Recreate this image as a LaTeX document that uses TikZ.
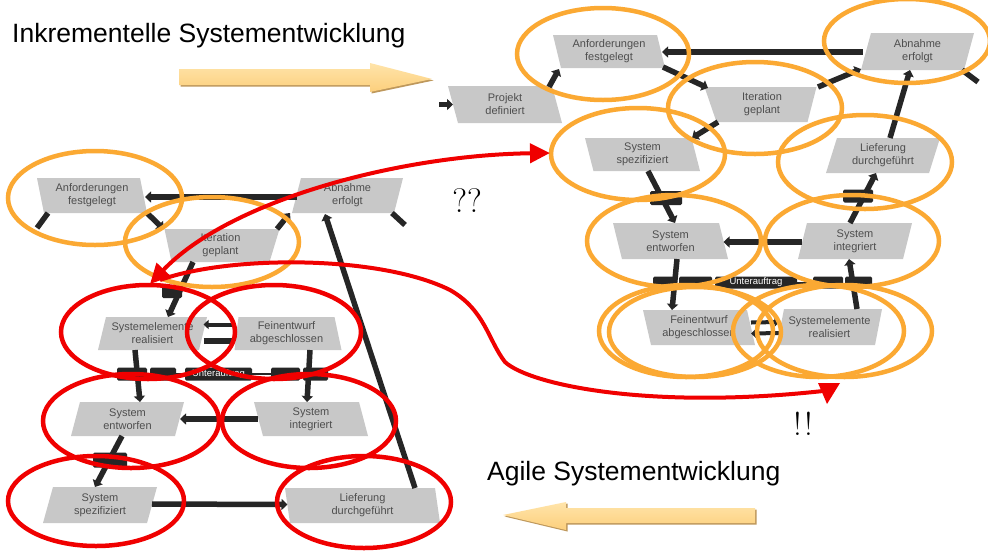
\documentclass[tikz,border=0pt]{standalone}
\usepackage{fontspec}
\newfontfamily\labelfont{Liberation Sans}
\usetikzlibrary{shapes.geometric,arrows.meta,calc}

\definecolor{gatefill}{RGB}{200,200,200}
\definecolor{gatetext}{RGB}{78,78,78}
\definecolor{linkcol}{RGB}{38,38,38}
\definecolor{ringorange}{RGB}{251,169,51}
\definecolor{ringred}{RGB}{240,0,0}
\definecolor{bandlight}{RGB}{255,228,170}
\definecolor{banddark}{RGB}{252,207,124}
\definecolor{bandedge}{RGB}{190,152,92}

\tikzset{
  % slanted decision gate: width, height, half height, left angle, right angle, caption
  gate/.style n args={6}{trapezium, trapezium stretches body, fill=gatefill, draw=none,
    inner xsep=0pt, inner ysep=#3, minimum width=#1, minimum height=#2,
    trapezium left angle=#4, trapezium right angle=#5,
    label={[caption]center:{#6}}},
  caption/.style={text=gatetext, font=\labelfont\fontsize{11}{13}\selectfont, align=center, inner sep=0pt},
  flow/.style={draw=linkcol, line width=5.5pt, -{Triangle[length=6pt,width=11pt]}},
  shortflow/.style={draw=linkcol, line width=4pt, -{Triangle[length=5pt,width=9pt]}},
  bar/.style={draw=linkcol, line width=5.5pt},
  tag/.style={fill=linkcol, rounded corners=1.5pt, inner sep=0pt, text=white,
    font=\labelfont\fontsize{9.5}{10}\selectfont},
  ring/.style={draw=ringorange, line width=4.5pt},
  redring/.style={draw=ringred, line width=4.5pt},
  redflow/.style={draw=ringred, line width=4pt},
  heading/.style={font=\labelfont\fontsize{26.5}{30}\selectfont, inner sep=0pt, anchor=base west},
  band/.style={top color=bandlight, bottom color=banddark, draw=none},
  bandshadow/.style={fill=bandedge, draw=none},
}

\begin{document}
\begin{tikzpicture}[x=1pt,y=-1pt]
\fill[white] (0,0) rectangle (988,550);
\useasboundingbox (0,0) rectangle (988,550);

% ---------- incremental cycle (upper right) ----------
\node[gate={114pt}{37pt}{18.5pt}{105.1}{74.9}{Projekt\\definiert}] (PD) at (505,104.5) {};
\node[gate={112pt}{33pt}{16.5pt}{103.6}{76.4}{Anforderungen\\festgelegt}] (AF) at (609,51.5) {};
\node[gate={113pt}{37pt}{18.5pt}{74.9}{105.1}{Abnahme\\erfolgt}] (AE) at (917.5,51.5) {};
\node[gate={112pt}{35pt}{17.5pt}{108.9}{104.4}{Iteration\\geplant}] (IG) at (762,104.5) {};
\node[gate={115pt}{33pt}{16.5pt}{104.4}{75.6}{System\\spezifiziert}] (SS) at (642.5,154.5) {};
\node[gate={114pt}{35pt}{17.5pt}{72.6}{107.4}{Lieferung\\durchgeführt}] (LD) at (883,155.5) {};
\node[gate={115pt}{36pt}{18pt}{104}{76}{System\\entworfen}] (SE) at (670.5,241) {};
\node[gate={114pt}{36pt}{18pt}{76}{104}{System\\integriert}] (SI) at (855,241) {};
\node[gate={112pt}{35pt}{17.5pt}{102.9}{77.1}{Feinentwurf\\abgeschlossen}] (FA) at (699,327.5) {};
\node[gate={105pt}{36pt}{18pt}{79}{101}{Systemelemente\\realisiert}] (SR) at (829.5,327) {};

\coordinate (pdin) at (439,104.5);
\coordinate (aeout) at (978,82);

\draw[flow] (pdin) -- ([shift={(-52,0)}]PD.center);
\draw[flow] ([shift={(44,-17.5)}]PD.center) -- ([shift={(-50,17.5)}]AF.center);
\draw[flow] ([shift={(54,15.5)}]AF.center) -- ([shift={(-54,-16.5)}]IG.center);
\draw[flow] ([shift={(56,-17.5)}]IG.center) -- ([shift={(-56.5,17.5)}]AE.center);
\draw[flow] ([shift={(-55,0.5)}]AE.center) -- ([shift={(53,0.5)}]AF.center);
\draw[flow] ([shift={(-44,17.5)}]IG.center) -- ([shift={(49.5,-16.5)}]SS.center);
\draw[flow] ([shift={(7,-17.5)}]LD.center) -- ([shift={(-7.5,18.5)}]AE.center);
\draw[bar] ([shift={(44.5,18.5)}]AE.center) -- (aeout);
\draw[flow] ([shift={(5.5,16.5)}]SS.center) -- ([shift={(4.5,-18)}]SE.center);
\draw[flow] ([shift={(6.5,18)}]SE.center) -- ([shift={(-27,-17.5)}]FA.center);
\draw[flow] ([shift={(-53,1)}]SI.center) -- ([shift={(53,1)}]SE.center);
\draw[flow] ([shift={(27.5,-18)}]SR.center) -- ([shift={(-6,18)}]SI.center);
\draw[flow] ([shift={(-5,-18)}]SI.center) -- ([shift={(-7,17.5)}]LD.center);
\draw[shortflow] ([shift={(52,-5)}]FA.center) -- ([shift={(-50,-5)}]SR.center);
\draw[shortflow] ([shift={(-50,6)}]SR.center) -- ([shift={(52,6)}]FA.center);

\node[tag, minimum width=32pt, minimum height=14pt] (t1) at (666,198) {};
\node[tag, minimum width=30pt, minimum height=13pt] (t2) at (858,196) {};
\node[tag, minimum width=24pt, minimum height=12pt] (t3) at (665,282.5) {};
\node[tag, minimum width=33pt, minimum height=12pt] (t4) at (695.5,282.5) {};
\node[tag, minimum width=82pt, minimum height=12pt] (t5) at (756,282.5) {Unterauftrag};
\node[tag, minimum width=30pt, minimum height=12pt] (t6) at (828,282.5) {};
\node[tag, minimum width=27pt, minimum height=12pt] (t7) at (858.5,282.5) {};
\draw[linkcol, line width=2pt] (t4.east) -- (t5.west);
\draw[linkcol, line width=2pt] (t5.east) -- (t6.west);

% ---------- agile cycle (lower left) ----------
\node[gate={110pt}{35pt}{17.5pt}{101.3}{78.7}{Anforderungen\\festgelegt}] (AFl) at (92,195.5) {};
\node[gate={111pt}{35pt}{17.5pt}{75.6}{104.4}{Abnahme\\erfolgt}] (AEl) at (347.5,195.5) {};
\node[gate={115pt}{33pt}{16.5pt}{102}{106.9}{Iteration\\geplant}] (IGl) at (220.5,245.5) {};
\node[gate={109pt}{33pt}{16.5pt}{76.4}{103.6}{Systemelemente\\realisiert}] (SRl) at (152.5,333.5) {};
\node[gate={107pt}{33pt}{16.5pt}{83.1}{78}{Feinentwurf\\abgeschlossen}] (FAl) at (286.5,333.5) {};
\node[gate={113pt}{34pt}{17pt}{75.2}{104.8}{System\\entworfen}] (SEl) at (127.5,419) {};
\node[gate={114pt}{34pt}{17pt}{104.8}{75.2}{System\\integriert}] (SIl) at (311,419) {};
\node[gate={114pt}{36pt}{18pt}{74.5}{105.5}{System\\spezifiziert}] (SSl) at (100,505) {};
\node[gate={155pt}{35pt}{17.5pt}{98.1}{81.9}{Lieferung\\durchgeführt}] (LDl) at (362.5,505.5) {};

\coordinate (aflout) at (37,228);
\coordinate (aelout) at (405,225);

\draw[flow] ([shift={(-50.5,1.5)}]AEl.center) -- ([shift={(53,1.5)}]AFl.center);
\draw[bar] ([shift={(-44,17.5)}]AFl.center) -- (aflout);
\draw[flow] ([shift={(55,17.5)}]AFl.center) -- ([shift={(-57,-16.5)}]IGl.center);
\draw[flow] ([shift={(56.5,-16.5)}]IGl.center) -- ([shift={(-57.5,17.5)}]AEl.center);
\draw[bar] ([shift={(44.5,17.5)}]AEl.center) -- (aelout);
\draw[flow] ([shift={(52.5,-17.5)}]LDl.center) -- ([shift={(-22.5,18.5)}]AEl.center);
\draw[flow] ([shift={(-27.5,16.5)}]IGl.center) -- ([shift={(15.5,-16.5)}]SRl.center);
\draw[shortflow] ([shift={(-51.5,-9)}]FAl.center) -- ([shift={(51,-9)}]SRl.center);
\draw[bar] ([shift={(51,7.5)}]SRl.center) -- ([shift={(-53,7.5)}]FAl.center);
\draw[flow] ([shift={(-17.5,16.5)}]SRl.center) -- ([shift={(12.5,-17)}]SEl.center);
\draw[flow] ([shift={(23.5,16.5)}]FAl.center) -- ([shift={(-4,-17)}]SIl.center);
\draw[flow] ([shift={(-53,0)}]SIl.center) -- ([shift={(52.5,0)}]SEl.center);
\draw[flow] ([shift={(-5.5,17)}]SEl.center) -- ([shift={(-5,-18)}]SSl.center);
\draw[flow] ([shift={(52,-1)}]SSl.center) -- ([shift={(-75,-1)}]LDl.center);

\node[tag, minimum width=20pt, minimum height=12pt] (tl1) at (172,292) {};
\node[tag, minimum width=34pt, minimum height=15pt] (tl2) at (110,460) {};
\node[tag, minimum width=30pt, minimum height=13pt] (tl3) at (132,374) {};
\node[tag, minimum width=26pt, minimum height=13pt] (tl4) at (163,374) {};
\node[tag, minimum width=67pt, minimum height=13pt] (tl5) at (218.5,374) {Unterauftrag};
\node[tag, minimum width=29pt, minimum height=13pt] (tl6) at (285.5,374) {};
\node[tag, minimum width=25pt, minimum height=13pt] (tl7) at (315.5,374) {};
\draw[linkcol, line width=2pt] (tl4.east) -- (tl5.west);
\draw[linkcol, line width=2pt] (tl5.east) -- (tl6.west);

% ---------- highlight rings ----------
\draw[ring] (603,54) ellipse [x radius=86pt, y radius=46pt];
\draw[ring] (907,41) ellipse [x radius=83pt, y radius=42pt];
\draw[ring] (755,108) ellipse [x radius=87pt, y radius=46pt];
\draw[ring] (638,154) ellipse [x radius=87pt, y radius=46pt];
\draw[ring] (865,162) ellipse [x radius=87pt, y radius=47pt];
\draw[ring] (674,241) ellipse [x radius=87pt, y radius=46pt];
\draw[ring] (852,241) ellipse [x radius=87pt, y radius=46pt];
\draw[ring] (686,331) ellipse [x radius=87pt, y radius=46pt];
\draw[ring] (695,332) ellipse [x radius=86pt, y radius=45pt];
\draw[ring] (818.5,331) ellipse [x radius=85.5pt, y radius=46pt];
\draw[ring] (844.5,331) ellipse [x radius=87.5pt, y radius=46pt];

\draw[ring] (95,198) ellipse [x radius=87pt, y radius=47pt];
\draw[ring] (212,242) ellipse [x radius=87pt, y radius=45pt];
\draw[redring] (148,332) ellipse [x radius=87pt, y radius=47pt];
\draw[redring] (274,332) ellipse [x radius=87pt, y radius=47pt];
\draw[redring] (131,421) ellipse [x radius=88pt, y radius=47pt];
\draw[redring] (309,421) ellipse [x radius=87pt, y radius=47pt];
\draw[redring] (96,501) ellipse [x radius=88pt, y radius=45pt];
\draw[redring] (364,502) ellipse [x radius=87pt, y radius=46pt];

% ---------- red transfer arrows ----------
\coordinate (rA) at (150,284);
\coordinate (rB) at (550,153);
\coordinate (rC) at (160,280);
\coordinate (rD) at (823,391);
\draw[redflow, {Triangle[length=20pt,width=19pt]}-{Triangle[length=20pt,width=19pt]}]
  (rA) .. controls (230,200) and (400,155) .. (rB);
\draw[redflow] (rC) .. controls (230,255) and (380,255) .. (450,290)
  .. controls (485,310) and (488,340) .. (505,362)
  .. controls (530,385) and (650,410) .. (rD);
\fill[ringred] ([shift={(-5,-8)}]rD) -- ([shift={(17,-8)}]rD) -- ([shift={(4,13)}]rD) -- cycle;

% ---------- broad direction arrows ----------
\fill[bandshadow] (180.5,70.5) -- (371.5,70.5) -- (371.5,64.5) -- (433.5,80.5) -- (371.5,93.5) -- (371.5,86.5) -- (180.5,86.5) -- cycle;
\shade[band] (179,69) -- (370,69) -- (370,63) -- (432,79) -- (370,92) -- (370,85) -- (179,85) -- cycle;
\fill[bandshadow] (504.5,516.5) -- (567.5,503.5) -- (567.5,509.5) -- (756.5,509.5) -- (756.5,524.5) -- (567.5,524.5) -- (567.5,531.5) -- cycle;
\shade[band] (503,515) -- (566,502) -- (566,508) -- (755,508) -- (755,523) -- (566,523) -- (566,530) -- cycle;

% ---------- texts ----------
\node[heading] (inkr) at (12,42) {Inkrementelle Systementwicklung};
\node[heading] (agil) at (487,480) {Agile Systementwicklung};
\node[inner sep=0pt, anchor=base, font=\fontsize{34}{36}\selectfont] (qq) at (467,212) {??};
\node[inner sep=0pt, anchor=base, font=\fontsize{33}{36}\selectfont] (ex) at (803,435) {!\kern3pt!};
\end{tikzpicture}
\end{document}
